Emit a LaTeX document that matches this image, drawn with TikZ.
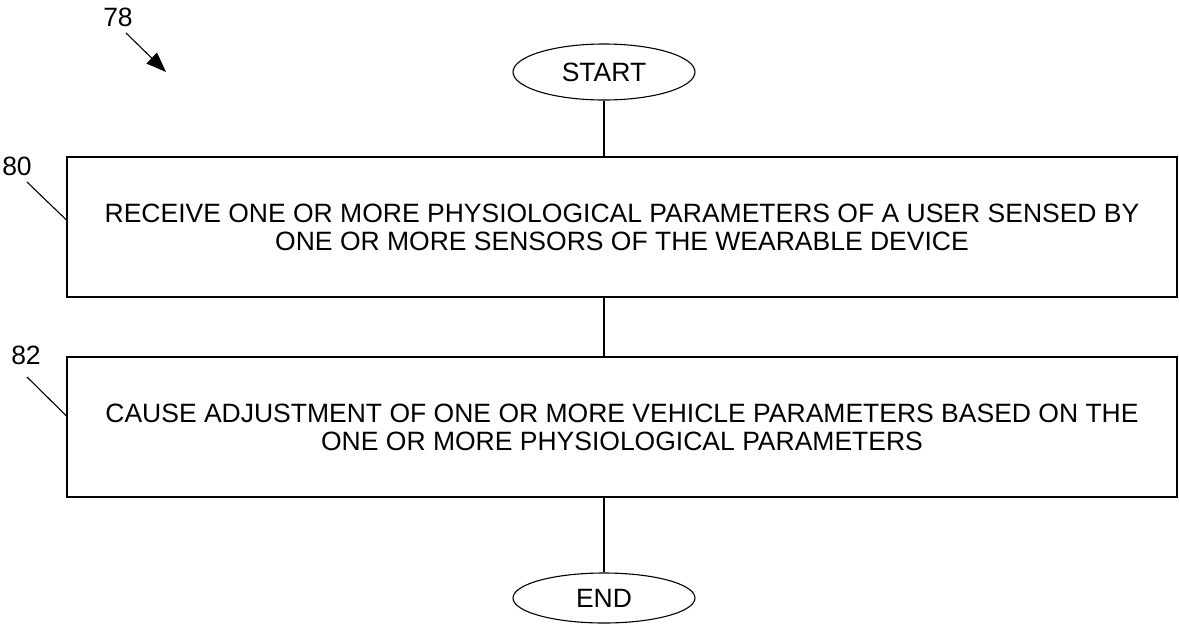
\documentclass[tikz,border=0pt]{standalone}
\usepackage{fontspec}
\setmainfont{Liberation Sans}
\usetikzlibrary{shapes.geometric, arrows.meta, positioning}

\begin{document}
\begin{tikzpicture}[x=1pt, y=-1pt, line width=1.1pt,
        font=\fontsize{26.5}{28}\selectfont,
        term/.style={draw, ellipse, minimum width=182pt, minimum height=56pt, inner sep=0pt},
        stepbox/.style={draw, rectangle, minimum width=1110pt, minimum height=140pt, align=center, inner sep=0pt},
        refnum/.style={inner sep=0pt}]
        \useasboundingbox (0,0) rectangle (1179,625);

        \node (start) [term] at (604,72) {START};
        \node (recv) [stepbox] at (622,227) {RECEIVE ONE OR MORE PHYSIOLOGICAL PARAMETERS OF A USER SENSED BY\\ONE OR MORE SENSORS OF THE WEARABLE DEVICE};
        \node (adjust) [stepbox] at (622,427) {CAUSE ADJUSTMENT OF ONE OR MORE VEHICLE PARAMETERS BASED ON THE\\ONE OR MORE PHYSIOLOGICAL PARAMETERS};
        \node (end) [term, minimum height=50pt] at (604,598) {END};

        \draw (start.south) -- (start.south |- recv.north);
        \draw (start.south |- recv.south) -- (start.south |- adjust.north);
        \draw (start.south |- adjust.south) -- (end.north);

        % reference numerals
        \node (n78) [refnum] at (118,17) {78};
        \node (n80) [refnum] at (17,166) {80};
        \node (n82) [refnum] at (26,355) {82};
        \coordinate (t78) at (126,33);
        \coordinate (h78) at (166,72);
        \coordinate (t80) at (27,182);
        \coordinate (t82) at (27,377);

        \draw[-{Triangle[length=20pt, width=15pt]}] (t78) -- (h78);
        \draw (t80) -- ([yshift=7pt]recv.west);
        \draw (t82) -- ([yshift=11pt]adjust.west);
\end{tikzpicture}
\end{document}
